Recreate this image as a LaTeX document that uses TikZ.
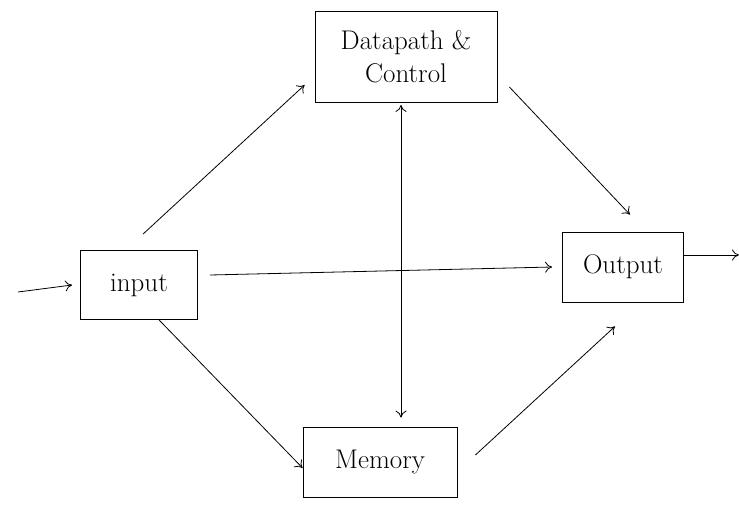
\documentclass[tikz,border=0pt]{standalone}
\usepackage{fontspec}
\usepackage{tikz}
\usetikzlibrary{arrows.meta}
\usepackage{amsmath,amssymb}

\tikzset{
    unit/.style={draw, thick, align=center, font=\fontsize{27}{33}\selectfont},
    flow/.style={thick, -{To[length=7pt,width=11pt]}},
    biflow/.style={thick, {To[length=7pt,width=11pt]}-{To[length=7pt,width=11pt]}}
}

\begin{document}
\begin{tikzpicture}[x=1pt, y=-1pt]
    \useasboundingbox (0,0) rectangle (739,504);

    \node [unit, minimum width=182pt, minimum height=91pt] (datapath) at (406, 57) {Datapath \&\\ Control};
    \node [unit, minimum width=117pt, minimum height=69pt] (input) at (139, 285) {input};
    \node [unit, minimum width=121pt, minimum height=70pt] (output) at (623, 267) {Output};
    \node [unit, minimum width=154pt, minimum height=70pt] (memory) at (380, 462) {Memory};

    \coordinate (src) at (18, 292);
    \coordinate (sink) at (739, 255);

    \draw [flow] (src) -- ([shift={(-8, 0)}]input.west);
    \draw [flow] ([shift={(0, -12)}]output.east) -- (sink);

    \draw [flow] ([shift={(4, -16)}]input.north) -- ([shift={(-10, 28)}]datapath.west);
    \draw [flow] ([shift={(12, 30)}]datapath.east) -- ([shift={(7, -17)}]output.north);
    \draw [flow] ([shift={(12, -10)}]input.east) -- ([shift={(-10, 0)}]output.west);
    \draw [flow] ([shift={(20, 0)}]input.south) -- ([shift={(0, 6)}]memory.west);
    \draw [flow] ([shift={(18, -7)}]memory.east) -- ([shift={(-8, 24)}]output.south);
    \draw [biflow] ([shift={(-5, 2)}]datapath.south) -- ([shift={(21, -9)}]memory.north);

\end{tikzpicture}
\end{document}
